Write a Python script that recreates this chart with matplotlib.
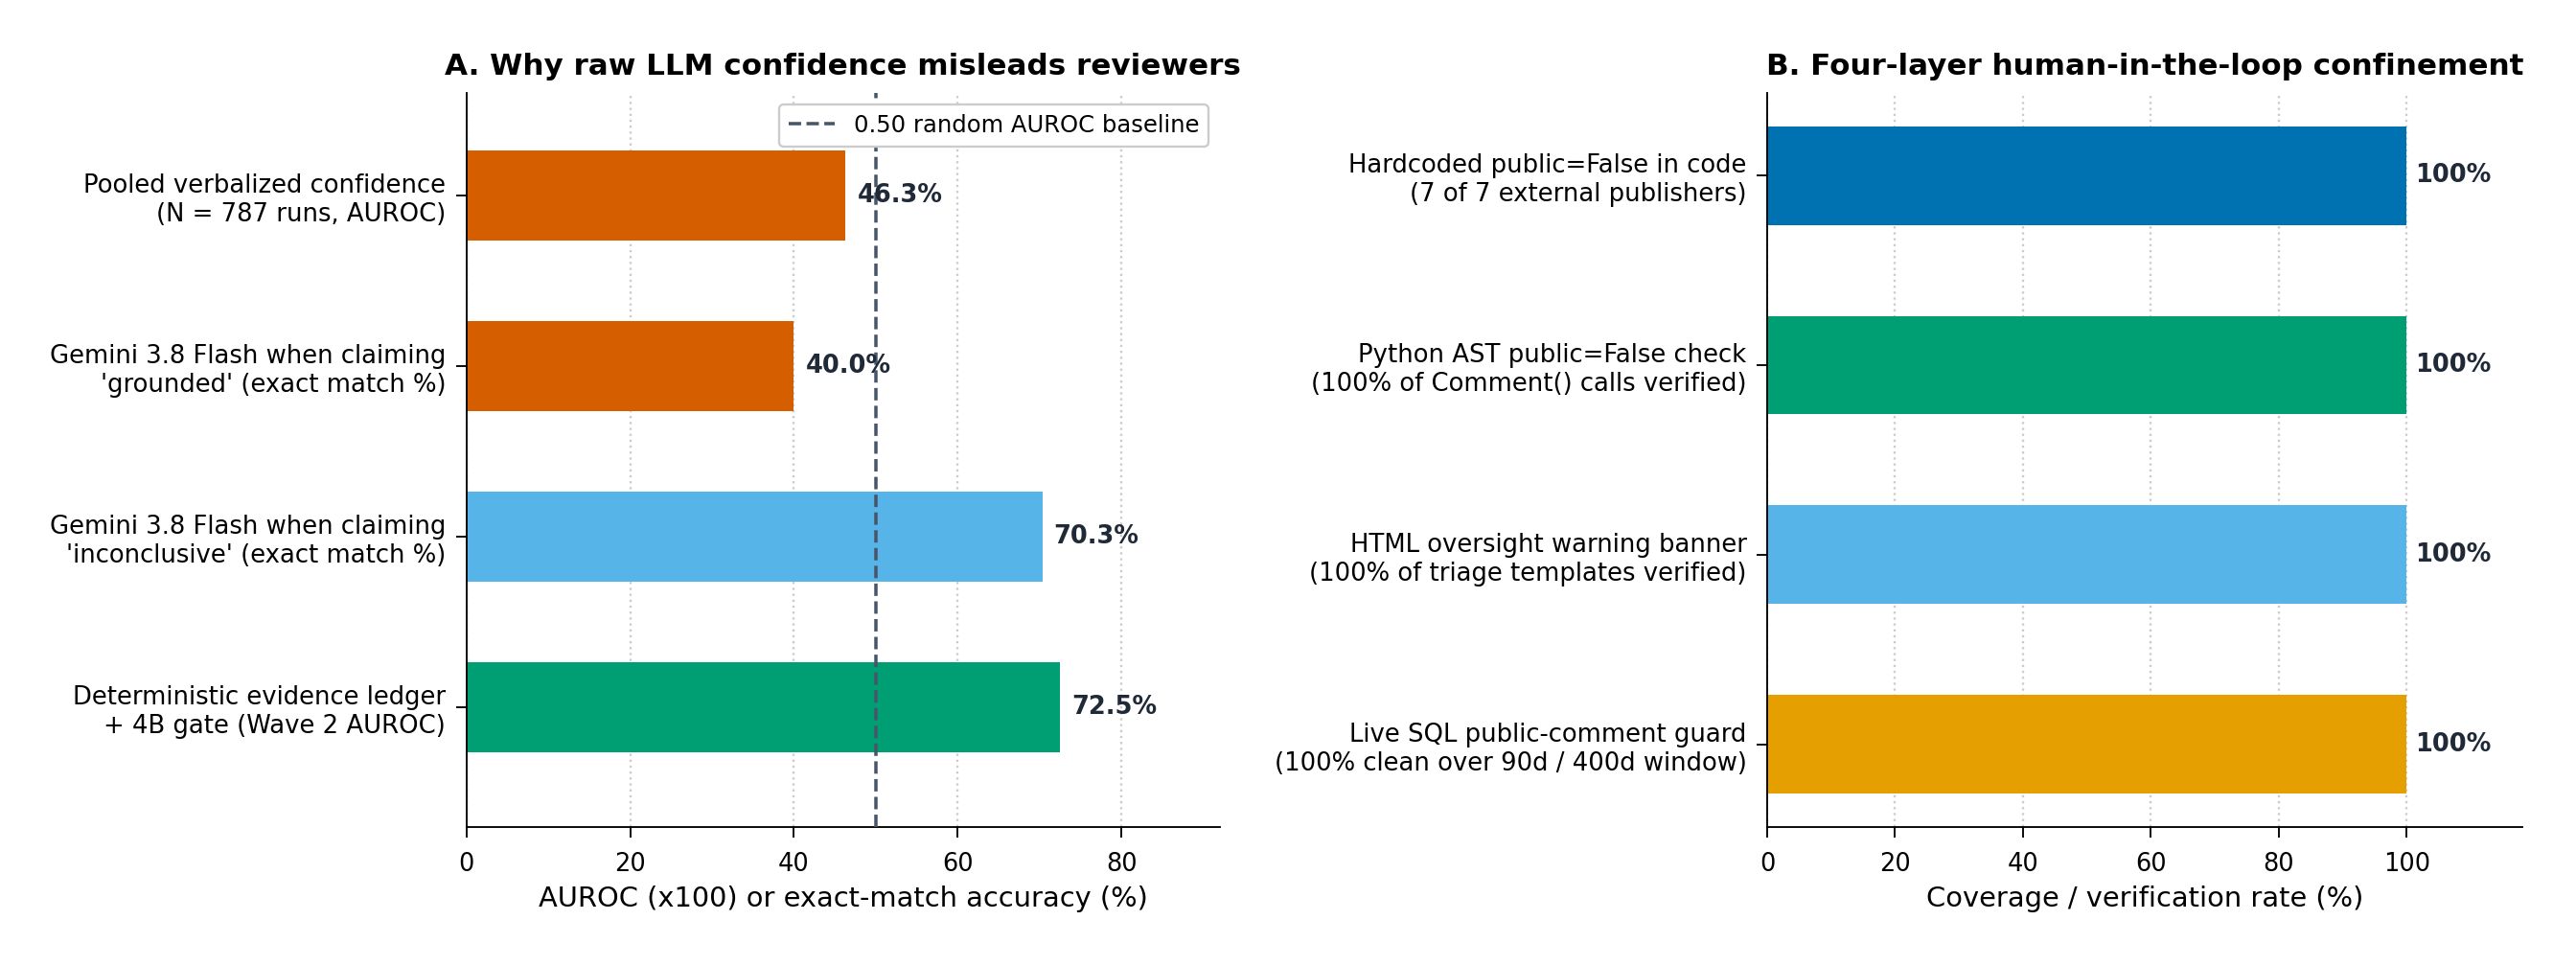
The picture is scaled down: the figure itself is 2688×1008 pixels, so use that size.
import matplotlib.pyplot as plt

# Panel A data
a_labels = [
    "Pooled verbalized confidence\n(N = 787 runs, AUROC)",
    "Gemini 3.8 Flash when claiming\n'grounded' (exact match %)",
    "Gemini 3.8 Flash when claiming\n'inconclusive' (exact match %)",
    "Deterministic evidence ledger\n+ 4B gate (Wave 2 AUROC)",
]
a_values = [46.3, 40.0, 70.3, 72.5]
a_colors = ["#D55E00", "#D55E00", "#56B4E9", "#009E73"]
baseline = 50

# Panel B data
b_labels = [
    "Hardcoded public=False in code\n(7 of 7 external publishers)",
    "Python AST public=False check\n(100% of Comment() calls verified)",
    "HTML oversight warning banner\n(100% of triage templates verified)",
    "Live SQL public-comment guard\n(100% clean over 90d / 400d window)",
]
b_values = [100, 100, 100, 100]
b_colors = ["#0072B2", "#009E73", "#56B4E9", "#E69F00"]

label_color = "#1f2937"

fig = plt.figure(figsize=(16, 6), dpi=168)
ax1 = fig.add_axes([0.181, 0.144, 0.2926, 0.7598])
ax2 = fig.add_axes([0.686, 0.144, 0.293, 0.7598])

# Panel A
y = range(len(a_values))
ax1.barh(y, a_values, height=0.53, color=a_colors, zorder=2)
ax1.axvline(baseline, color="#475569", linestyle="--", linewidth=1.5,
            label="0.50 random AUROC baseline", zorder=3)
for i, v in enumerate(a_values):
    ax1.text(v + 1.4, i, f"{v:.1f}%", va="center", ha="left",
             fontsize=11, fontweight="bold", color=label_color, zorder=4)
ax1.set_yticks(list(y))
ax1.set_yticklabels(a_labels, fontsize=11.1)
ax1.set_ylim(3.7, -0.6)
ax1.set_xlim(0, 92)
ax1.set_xlabel("AUROC (x100) or exact-match accuracy (%)", fontsize=12.4)
ax1.set_title("A. Why raw LLM confidence misleads reviewers",
              fontsize=13.3, fontweight="bold", pad=8)
ax1.legend(loc="upper right", fontsize=10.4, framealpha=1)
ax1.grid(axis="x", linestyle=":", color="#cccccc", linewidth=1, zorder=0)
ax1.set_axisbelow(True)

# Panel B
y = range(len(b_values))
ax2.barh(y, b_values, height=0.52, color=b_colors, zorder=2)
for i, v in enumerate(b_values):
    ax2.text(v + 1.3, i, f"{v:.0f}%", va="center", ha="left",
             fontsize=11, fontweight="bold", color=label_color, zorder=4)
ax2.set_yticks(list(y))
ax2.set_yticklabels(b_labels, fontsize=11.1)
ax2.invert_yaxis()
ax2.set_xlim(0, 118)
ax2.set_xlabel("Coverage / verification rate (%)", fontsize=12.4)
ax2.set_title("B. Four-layer human-in-the-loop confinement",
              fontsize=13.3, fontweight="bold", pad=8)
ax2.grid(axis="x", linestyle=":", color="#cccccc", linewidth=1, zorder=0)
ax2.set_axisbelow(True)

for ax in (ax1, ax2):
    ax.spines["top"].set_visible(False)
    ax.spines["right"].set_visible(False)
    ax.tick_params(axis="x", labelsize=11, length=4.7, pad=6.5)
    ax.tick_params(axis="y", length=4.7, pad=4.5)

fig.savefig("out.png", dpi=168)
